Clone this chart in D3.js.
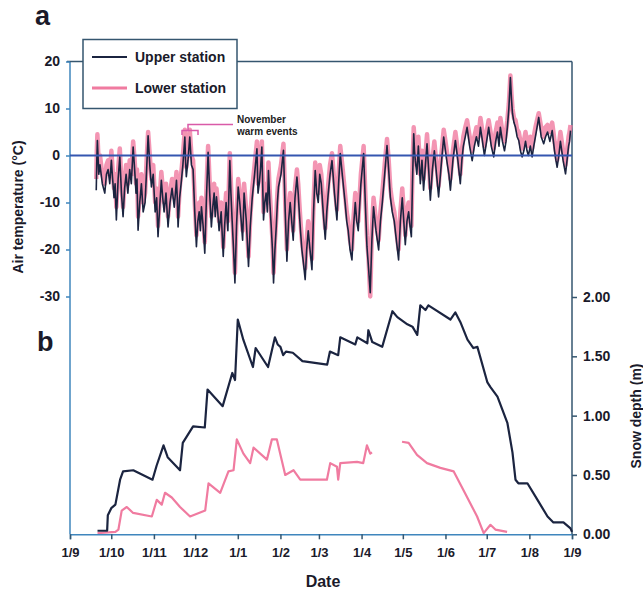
<!DOCTYPE html>
<html>
<head>
<meta charset="utf-8">
<script src="https://cdn.jsdelivr.net/npm/d3@7"></script>
<style>
  body { margin: 0; background: #fff; }
  svg { display: block; font-family: "Liberation Sans", Arial, sans-serif; }
  .tick text { font-weight: bold; font-size: 13px; fill: #1a1a2a; }
</style>
</head>
<body>
<svg id="chart" width="643" height="593"></svg>
<script>
// days counted from 1 September
var tempDays = [19.1,19.5,19.9,20.9,21.8,23.5,25.3,26.5,27.7,28.9,
    30.1,31,32,32.8,33.7,35,36.2,37.4,38.6,39.7,
    40.8,42.1,43.4,44.6,45.9,47,48,48.7,49.5,50.7,
    51.9,53.2,54.6,55.7,56.8,58,59.2,60.5,61.9,63,
    64,65.2,66.4,67.4,68.4,69.8,71.3,72.7,74.2,75.8,
    77.4,78,78.6,79.7,80.8,82.1,83.5,84,84.6,85.8,
    87.1,88.3,89.5,90.7,91.9,92.9,93.9,94.8,95.6,96.8,
    98,99.2,100.4,101.6,102.8,103.8,104.8,105.6,106.5,107.4,
    108.4,109.9,111.4,112.4,113.5,114.8,116.2,117,117.9,118.9,
    119.9,121.1,122.3,123.4,124.5,125.5,126.6,128.2,129.8,131.1,
    132.5,134.2,135.9,136.7,137.6,138.5,139.5,140.1,140.7,141.6,
    142.6,143.5,144.3,145.3,146.3,147.2,148,149,150,150.8,
    151.6,153.4,155.2,156.5,157.7,158.9,160.1,161.2,162.3,163.6,
    165,165.9,166.7,167.6,168.6,169.8,171,172.1,173.2,174.5,
    175.9,177.1,178.3,179.4,180.5,181.6,182.7,184.1,185.6,186.7,
    187.8,189.1,190.5,192.3,194.1,195.3,196.5,198.3,200.1,201.2,
    202.3,203.6,205,206.2,207.4,208.5,209.6,211.5,213.5,214.7,
    215.9,217.1,218.3,219.5,220.7,222.5,224.4,225.7,227.1,228.8,
    230.5,231.7,232.9,234.3,235.8,237.3,238.9,240.2,241.6,242.7,
    243.8,245,246.2,247.2,248.2,249,249.9,250.5,251.1,252.2,
    253.3,254,254.7,255.9,257.1,258.4,259.6,260.8,262,263.5,
    264.9,266.5,268,269.9,271.7,273,274.4,275.5,276.6,278.4,
    280.2,282,283.8,284.9,286,287.4,288.7,290.6,292.4,294,
    295.5,297,298.4,299.9,301.3,302.9,304.4,306.3,308.1,309.5,
    310.8,311.9,312.9,314.4,315.9,317,318,319.1,320.2,321,
    321.7,322.8,323.9,325.1,326.3,327.5,328.7,330,331.2,332.3,
    333.3,334.7,336,337.2,338.4,339.6,340.8,342.6,344.4,345.8,
    347.2,348.9,350.6,351.5,352.3,353.3,354.2,355.4,356.6,358.5,
    360.3,361.4,362.5,363.2,363.9];
var upperTemp = [-7.4,-1,3.2,-4,-2,-6,-8,-4,-3,-6,
    -1,-5,-9,-6,-13.7,-5,-0.3,-8,-13,-7,
    -4,-8,-3,-6,1.8,-3,-8,-5,-15.9,-10,
    -6,-12,-10,-3,4.2,-2,-6.7,-4,-12,-9,
    -17.3,-11,-5.3,-9,-12,-8,-15.2,-10,-7,-11,
    -5.3,-9,-15.2,-9,-6,-2,3.9,-1,-4.5,-1,
    3.9,-2,-3,-12,-19.4,-14,-12,-16,-10.9,-15,
    -20.8,-9,0.7,-8,-15.2,-11,-8,-13,-8.8,-12,
    -16,-12,-21.5,-15,-10,-16,-1.1,-8,-14,-20,
    -27.1,-15,-6.7,-10,-14,-18,-8,-14,-23.6,-15,
    -9,-4,1.4,-8,-6,-3,1.8,-6,-13.7,-10,
    -8,-12,-3.2,-10,-15,-20,-27.1,-20,-15,-10,
    -6.7,-4,1.1,-12,-22.5,-14,-10,-14,-18,-9,
    -4.6,-8,-12,-16,-20,-23,-26.4,-20,-16,-20,
    -24.3,-12,-3.2,-8,-10,-4,-6,-12,-17.8,-12,
    -8,-4,-1.1,-8,-13.7,-6,0.4,-5,-10.2,-14,
    -16,-20,-22.2,-15,-10,-14,-16,-6,0.4,-10,
    -19.4,-24,-29.2,-18,-10.9,-16,-20.1,-14,-10,-4,
    2.1,-3,-8.8,-12,-14,-18,-22.2,-14,-9,-14,
    -19,-14,-12,-15,-17.3,-6,4.6,1,-1.1,-4,
    2,-2,-6,-1,-7.4,-2,2.5,-3,-9.5,-3,
    1,-4,-8.8,-2,3.9,1,-2,-4,-7.4,-1,
    3.2,-1,-6,-1,2,4,6,2,-1.1,2,
    4,2,6,3,0,3,6,2,-0.3,3,
    5,2,6,3,1,3,6,10,16.6,12,
    9,7,6,4,3.2,1,-0.3,1,3,1,
    0,2,-0.3,2,4,6,8.1,4,2.5,4,
    5,3,5.3,3,1,-1,-2.5,0,3,-1,
    -3.9,-1,2,3,5.3];
var lowerTemp = [-5,1,4.5,-2,0,-4,-6,-2,-1,-4,
    1,-3,-7,-4,-11,-3,1.5,-6,-11,-5,
    -2,-6,-1,-4,3,-1,-6,-3,-13,-8,
    -4,-10,-8,-1,5,0,-5,-2,-10,-7,
    -15,-9,-3.5,-7,-10,-6,-13,-8,-5,-9,
    -3.5,-7,-13,-7,-4,0,5.5,1,-2.5,1,
    5.5,0,-1,-10,-17,-12,-10,-14,-9,-13,
    -18.5,-7,2,-6,-13,-9,-6,-11,-7,-10,
    -14,-10,-19.5,-13,-8,-14,0.5,-6,-12,-18,
    -25,-13,-5,-8,-12,-16,-6,-12,-21.5,-13,
    -7,-2,3,-6,-4,-1,3,-4,-12,-8,
    -6,-10,-1.5,-8,-13,-18,-25,-18,-13,-8,
    -5,-2,2.5,-10,-20,-12,-8,-12,-16,-7,
    -3,-6,-10,-14,-18,-21,-24,-18,-14,-18,
    -22,-10,-1.5,-6,-8,-2,-4,-10,-15.5,-10,
    -6,-2,0.5,-6,-11.5,-4,2,-3,-8.5,-12,
    -14,-18,-20,-13,-8,-12,-14,-4,2,-8,
    -17,-22,-30,-16,-9,-14,-18,-12,-8,-2,
    3.5,-1,-7,-10,-12,-16,-20,-12,-7,-12,
    -17,-12,-10,-13,-15,-3,6,3,1,-2,
    4,0,-4,1,-5,0,4.5,-1,-7,-1,
    3,-2,-6.5,0,5.5,3,0,-2,-5,1,
    5,1,-4,1,4,6,7.5,4,1,4,
    6,4,8,5,2,5,7.5,4,1.5,5,
    7,4,8,5,3,5,7.5,11,17,13,
    10,8,7.5,5.5,5,3,1.5,3,5,3,
    2,4,1.5,4,6,7.5,9,6,4,6,
    6.5,5,7,5,3,1,-1,2,5,1,
    -2,1,4,5,6.5];

var upperSnowDays = [20,27,27.5,30,33,36.4,38.6,46,60,63,
    68,71,80,82,89.5,98,100,111,118,120,
    122,126,133,135,144,149,151,153,155,157,
    162,169,187,189,195,196.5,207.4,208.9,216.2,216.9,
    219.8,227,234.4,238,245.3,249,252.5,254.7,258.4,260.6,
    276.6,280.2,283.8,289,293.3,296.2,303.5,305.7,310.8,318,
    321.7,323.9,326,332.6,339.9,347.2,351.5,358.8,363.9,365];
var upperSnow = [0.03,0.03,0.16,0.22,0.25,0.46,0.53,0.54,0.46,0.58,
    0.75,0.65,0.54,0.77,0.91,0.90,1.22,1.08,1.36,1.30,
    1.81,1.64,1.41,1.57,1.41,1.66,1.60,1.58,1.51,1.54,
    1.53,1.46,1.43,1.54,1.51,1.66,1.60,1.66,1.61,1.72,
    1.62,1.58,1.88,1.83,1.77,1.75,1.68,1.93,1.89,1.93,
    1.81,1.87,1.79,1.64,1.57,1.58,1.28,1.24,1.16,0.94,
    0.69,0.46,0.43,0.43,0.29,0.15,0.10,0.10,0.05,0.02];
var lowerSnowDays = [20,33,35.2,37.6,41.3,45.9,59.5,63.1,66.7,69.1,
    74,80,87.3,98.3,100.7,109.2,115.2,118.9,121.3,126.1,
    131,133.4,143.2,146.8,150.4,152.8,156.5,162.5,167.4,186.8,
    189.2,194.1,195,196.5,208.7,213.2,215.9,218.3,219.6,230,
    241.4,246.2,252.3,259.6,269.3,279,286.2,296,300.8,305.7,
    309.3,317.8];
var lowerSnow = [0.01,0.02,0.04,0.2,0.23,0.18,0.15,0.29,0.25,0.35,
    0.31,0.23,0.15,0.2,0.43,0.35,0.53,0.54,0.80,0.68,
    0.60,0.73,0.63,0.80,0.80,0.68,0.50,0.54,0.46,0.46,
    0.60,0.57,0.46,0.60,0.61,0.60,0.75,0.68,0.69,null,
    0.78,0.77,0.67,0.60,0.56,0.53,0.37,0.15,0.01,0.08,
    0.04,0.02];

var tempTicks = [20, 10, 0, -10, -20, -30];
var snowTicks = [0, 0.5, 1, 1.5, 2];
var legendLabels = ["Upper station", "Lower station"];

(function() {
var dark = "#1b2440", pink = "#f07ba0", axisBlue = "#3f86bd";

var svg = d3.select("#chart");
var left = 70, right = 572, plotTop = 61.5, bottom = 534.3;
var start = new Date(1998, 8, 1), end = new Date(1999, 8, 1);

var x = d3.scaleTime().domain([start, end]).range([left, right]);
var yT = d3.scaleLinear().domain([-30, 20]).range([296.5, plotTop]);
var yS = d3.scaleLinear().domain([0, 2]).range([bottom, 297]);

function dayX(d) { return x(d3.timeHour.offset(start, Math.round(d * 24))); }

// frame
svg.append("line").attr("x1", left).attr("x2", left).attr("y1", plotTop).attr("y2", bottom)
   .attr("stroke", axisBlue).attr("stroke-width", 1.5);
svg.append("line").attr("x1", left - 3).attr("x2", right).attr("y1", plotTop).attr("y2", plotTop)
   .attr("stroke", "#35566f").attr("stroke-width", 1.5);
svg.append("line").attr("x1", right).attr("x2", right).attr("y1", plotTop).attr("y2", bottom)
   .attr("stroke", "#35566f").attr("stroke-width", 1.5);

// temperature lines
var tempLine = function(vals) {
    return d3.line().x(function(d, i) { return dayX(tempDays[i]); })
                    .y(function(d) { return yT(d); })(vals);
};
svg.append("path").attr("d", tempLine(lowerTemp))
   .attr("fill", "none").attr("stroke", pink).attr("stroke-width", 4.5)
   .attr("stroke-opacity", 0.8).attr("stroke-linejoin", "round");
svg.append("path").attr("d", tempLine(upperTemp))
   .attr("fill", "none").attr("stroke", dark).attr("stroke-width", 1.6)
   .attr("stroke-linejoin", "round");

// zero line
svg.append("line").attr("x1", left).attr("x2", right).attr("y1", yT(0)).attr("y2", yT(0))
   .attr("stroke", "#3556b0").attr("stroke-width", 2);

// snow lines
var snowLine = function(days, vals) {
    return d3.line().defined(function(d) { return d != null; })
                    .x(function(d, i) { return dayX(days[i]); })
                    .y(function(d) { return yS(d); })(vals);
};
svg.append("path").attr("d", snowLine(lowerSnowDays, lowerSnow))
   .attr("fill", "none").attr("stroke", pink).attr("stroke-width", 2.2)
   .attr("stroke-linejoin", "round");
svg.append("path").attr("d", snowLine(upperSnowDays, upperSnow))
   .attr("fill", "none").attr("stroke", dark).attr("stroke-width", 2.2)
   .attr("stroke-linejoin", "round");

// axes
var gl = svg.append("g").attr("transform", "translate(" + left + ",0)")
    .call(d3.axisLeft(yT).tickValues(tempTicks).tickSize(4).tickPadding(6)
            .tickFormat(function(d) { return String(d); }));
gl.select(".domain").remove();
gl.selectAll(".tick line").attr("stroke", axisBlue).attr("stroke-width", 1.5);
gl.selectAll(".tick text").style("font-size", "14px");

var gr = svg.append("g").attr("transform", "translate(" + right + ",0)")
    .call(d3.axisRight(yS).tickValues(snowTicks).tickSize(5).tickPadding(6).tickFormat(d3.format(".2f")));
gr.select(".domain").remove();
gr.selectAll(".tick line").attr("stroke", "#35566f").attr("stroke-width", 1.5);
gr.selectAll(".tick text").style("font-size", "14px");

var gb = svg.append("g").attr("transform", "translate(0," + bottom + ")")
    .call(d3.axisBottom(x).ticks(d3.timeMonth.every(1)).tickSize(5).tickPadding(8)
            .tickFormat(function(d) { return "1/" + (d.getMonth() + 1); }));
gb.select(".domain").attr("stroke", axisBlue).attr("stroke-width", 1.5);
gb.selectAll(".tick line").attr("stroke", "#35566f").attr("stroke-width", 1.5);

// legend
var lg = svg.append("g");
lg.append("rect").attr("x", 83).attr("y", 39.5).attr("width", 154).attr("height", 69)
  .attr("fill", "#fff").attr("stroke", "#35566f").attr("stroke-width", 1.5);
[dark, pink].forEach(function(c, i) {
    var yy = 57 + i * 31;
    lg.append("line").attr("x1", 92).attr("x2", 127).attr("y1", yy).attr("y2", yy)
      .attr("stroke", c).attr("stroke-width", i ? 3 : 2);
    lg.append("text").attr("x", 135).attr("y", yy + 5).text(legendLabels[i])
      .attr("font-size", 14).attr("font-weight", "bold").attr("fill", "#1a1a2a");
});

// annotation
var mag = "#d95aa8";
svg.append("path")
   .attr("d", "M182,135V130.5H198V135M188,130.5V124.5H233")
   .attr("fill", "none").attr("stroke", mag).attr("stroke-width", 1.5);
svg.append("text").attr("x", 237).attr("y", 123).text("November")
   .attr("font-size", 10).attr("font-weight", "bold").attr("fill", "#222");
svg.append("text").attr("x", 237).attr("y", 135).text("warm events")
   .attr("font-size", 10).attr("font-weight", "bold").attr("fill", "#222");

// labels
svg.append("text").attr("x", 35).attr("y", 25).text("a")
   .attr("font-size", 27).attr("font-weight", "bold").attr("fill", "#1a1a2a");
svg.append("text").attr("x", 37).attr("y", 351).text("b")
   .attr("font-size", 27).attr("font-weight", "bold").attr("fill", "#1a1a2a");
svg.append("text").attr("transform", "translate(23,207) rotate(-90)")
   .attr("text-anchor", "middle").text("Air temperature (°C)")
   .attr("font-size", 14).attr("font-weight", "bold").attr("fill", "#1a1a2a");
svg.append("text").attr("transform", "translate(641,416) rotate(-90)")
   .attr("text-anchor", "middle").text("Snow depth (m)")
   .attr("font-size", 14).attr("font-weight", "bold").attr("fill", "#1a1a2a");
svg.append("text").attr("x", 323).attr("y", 587).attr("text-anchor", "middle").text("Date")
   .attr("font-size", 16).attr("font-weight", "bold").attr("fill", "#1a1a2a");
})();
</script>
</body>
</html>
